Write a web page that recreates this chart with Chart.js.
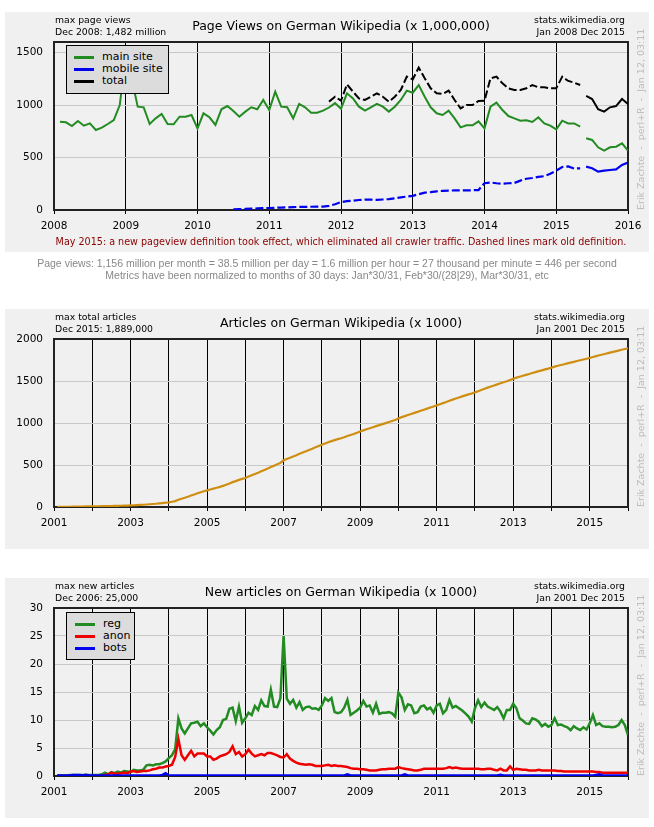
<!DOCTYPE html>
<html lang="en">
<head>
<meta charset="UTF-8">
<title>German Wikipedia</title>
<script src="https://cdn.jsdelivr.net/npm/chart.js@4"></script>
<style>
    body { margin: 0; background: #fff; width: 654px; height: 827px; position: relative; overflow: hidden; font-family: "DejaVu Sans", sans-serif; }
    .panel { position: absolute; left: 5px; width: 644px; height: 240px; background: #f0f0f0; }
    .panel canvas { position: absolute; left: 0; top: 0; }
    .txt { position: absolute; white-space: nowrap; color: #000; }
    .hdr { font-size: 9.3px; line-height: 12px; top: 2px; }
    .title { font-size: 12.5px; top: 6px; left: 49px; width: 574px; text-align: center; }
    .vert { position: absolute; left: 630px; top: 198px; transform-origin: 0 0; transform: rotate(-90deg); color: #bbb; font-size: 9.5px; line-height: 12px; white-space: pre; }
    .legend { position: absolute; background: #dcdcdc; border: 1px solid #000; z-index: 2; }
    .legend div { position: absolute; font-size: 11px; line-height: 12px; white-space: nowrap; }
    .legend span { position: absolute; height: 3px; width: 20px; }
    .note { position: absolute; font-size: 9.6px; color: #8b0000; top: 224px; left: 49px; width: 574px; text-align: center; white-space: nowrap; }
    .foot { position: absolute; left: 0; width: 654px; text-align: center; font-family: "Liberation Sans", Arial, sans-serif; font-size: 10.5px; color: #888; white-space: nowrap; }
</style>
</head>
<body>
<div class="panel" style="top:12px">
    <canvas id="pvChart" width="644" height="240"></canvas>
    <div class="txt hdr" style="left:50px">max page views<br>Dec 2008: 1,482 million</div>
    <div class="txt title">Page Views on German Wikipedia (x 1,000,000)</div>
    <div class="txt hdr" style="right:24px;text-align:right">stats.wikimedia.org<br>Jan 2008 Dec 2015</div>
    <div class="vert">Erik Zachte  -  perl+R  -  Jan 12, 03:11</div>
    <div class="legend" style="left:61px;top:33px;width:101px;height:47px">
        <span style="left:7px;top:10px;background:#228b22"></span><div style="left:35px;top:5px">main site</div>
        <span style="left:7px;top:22px;background:#0000ee"></span><div style="left:35px;top:17px">mobile site</div>
        <span style="left:7px;top:34px;background:#000"></span><div style="left:35px;top:29px">total</div>
    </div>
    <div class="note">May 2015: a new pageview definition took effect, which eliminated all crawler traffic. Dashed lines mark old definition.</div>
</div>
<div class="foot" style="top:257px">Page views: 1,156 million per month = 38.5 million per day = 1.6 million per hour = 27 thousand per minute = 446 per second</div>
<div class="foot" style="top:269px">Metrics have been normalized to months of 30 days: Jan*30/31, Feb*30/(28|29), Mar*30/31, etc</div>

<div class="panel" style="top:309px">
    <canvas id="artChart" width="644" height="240"></canvas>
    <div class="txt hdr" style="left:50px">max total articles<br>Dec 2015: 1,889,000</div>
    <div class="txt title">Articles on German Wikipedia (x 1000)</div>
    <div class="txt hdr" style="right:24px;text-align:right">stats.wikimedia.org<br>Jan 2001 Dec 2015</div>
    <div class="vert">Erik Zachte  -  perl+R  -  Jan 12, 03:11</div>
</div>

<div class="panel" style="top:578px">
    <canvas id="newChart" width="644" height="240"></canvas>
    <div class="txt hdr" style="left:50px">max new articles<br>Dec 2006: 25,000</div>
    <div class="txt title">New articles on German Wikipedia (x 1000)</div>
    <div class="txt hdr" style="right:24px;text-align:right">stats.wikimedia.org<br>Jan 2001 Dec 2015</div>
    <div class="vert">Erik Zachte  -  perl+R  -  Jan 12, 03:11</div>
    <div class="legend" style="left:61px;top:34px;width:67px;height:46px">
        <span style="left:8px;top:10px;background:#228b22"></span><div style="left:36px;top:5px">reg</div>
        <span style="left:8px;top:22px;background:#ee0000"></span><div style="left:36px;top:17px">anon</div>
        <span style="left:8px;top:34px;background:#0000ee"></span><div style="left:36px;top:29px">bots</div>
    </div>
</div>

<script>
    // page views (millions per month), old definition until Apr 2015, new from May 2015
    const mainSiteOld = [
        841, 835, 800, 848, 803, 825, 762, 784, 819, 857, 1000, 1482,
        1250, 984, 978, 819, 873, 914, 819, 816, 889, 889, 905, 778,
        921, 883, 810, 959, 990, 943, 889, 937, 978, 959, 1048, 952,
        1127, 984, 978, 873, 1010, 978, 927, 927, 946, 976, 1018, 965,
        1111, 1063, 984, 946, 978, 1010, 984, 937, 984, 1048, 1137, 1117,
        1190, 1079, 978, 921, 905, 946, 873, 787, 806, 806, 844, 778,
        984, 1022, 952, 895, 873, 851, 854, 838, 883, 825, 803, 768,
        851, 825, 825, 794
    ];
    const mainSiteNew = [683, 667, 597, 565, 597, 603, 635, 565];
    // mobile starts Jun 2010
    const mobileOld = [
        6, 8, 10, 13, 15, 17, 19,
        21, 23, 25, 28, 29, 30, 31, 32, 33, 40, 55, 75,
        84, 88, 95, 100, 98, 96, 100, 104, 112, 120, 128, 135,
        150, 165, 170, 178, 182, 185, 186, 186, 187, 188, 190, 255,
        262, 255, 250, 255, 258, 280, 298, 305, 315, 322, 345, 375,
        410, 415, 395, 397
    ];
    const mobileNew = [413, 397, 365, 375, 381, 387, 429, 451];
    // total starts Oct 2011
    const totalOld = [
        1032, 1079, 1041,
        1197, 1127, 1063, 1048, 1079, 1111, 1079, 1032, 1079, 1143, 1270, 1244,
        1356, 1254, 1159, 1111, 1105, 1137, 1048, 968, 1000, 1000, 1038, 1041,
        1254, 1270, 1206, 1159, 1143, 1143, 1159, 1190, 1168, 1168, 1159, 1159,
        1270, 1229, 1213, 1190
    ];
    const totalNew = [1086, 1057, 959, 937, 978, 990, 1057, 1010];

    // articles (x 1000), Jan 2001 - Dec 2015
    const totalArticles = [
        1, 1.5, 2, 2.5, 3, 3.5, 4, 5, 5.5, 6.5, 7, 8,
        8.5, 9, 9.5, 10.5, 11, 12, 13, 14, 15, 16, 17.5, 19,
        21, 23, 25, 27, 30, 33, 36, 39, 43, 47, 51, 56,
        62, 70, 87, 99, 110, 122, 136, 149, 163, 176, 188, 198,
        209, 219, 229, 240, 252, 265, 280, 296, 308, 323, 335, 346,
        362, 377, 393, 408, 425, 441, 457, 476, 492, 508, 525, 556,
        571, 586, 602, 617, 633, 648, 663, 679, 694, 710, 726, 742,
        756, 770, 784, 796, 808, 819, 831, 845, 857, 869, 883, 898,
        912, 925, 938, 950, 963, 975, 987, 999, 1011, 1023, 1035, 1055,
        1070, 1082, 1095, 1108, 1120, 1132, 1145, 1158, 1171, 1184, 1196, 1210,
        1224, 1237, 1250, 1264, 1278, 1291, 1304, 1317, 1329, 1341, 1352, 1365,
        1379, 1393, 1407, 1421, 1434, 1447, 1460, 1473, 1485, 1498, 1512, 1526,
        1540, 1551, 1562, 1573, 1584, 1595, 1606, 1617, 1627, 1638, 1648, 1659,
        1671, 1681, 1691, 1700, 1710, 1719, 1728, 1738, 1747, 1756, 1765, 1775,
        1786, 1796, 1806, 1815, 1825, 1834, 1843, 1852, 1862, 1872, 1881, 1889
    ];

    // new articles per month (x 1000), Jan 2001 - Dec 2015
    const regNew = [
        0.1, 0.1, 0.1, 0.1, 0.2, 0.2, 0.2, 0.2, 0.2, 0.2, 0.2, 0.2,
        0.2, 0.2, 0.3, 0.6, 0.3, 0.7, 0.5, 0.8, 0.6, 0.9, 0.8, 0.7,
        1.1, 1.0, 1.0, 1.1, 1.9, 2.0, 1.9, 2.1, 2.1, 2.3, 2.6, 3.2,
        3.7, 4.8, 10.3, 8.5, 7.6, 8.5, 9.4, 9.5, 9.7, 8.9, 9.4, 8.7,
        8.1, 7.4, 8.2, 8.7, 10.0, 10.2, 12.0, 12.2, 9.8, 12.4, 9.5, 10.3,
        11.3, 10.9, 12.5, 11.8, 13.5, 12.5, 12.4, 15.4, 12.4, 12.3, 13.9, 25.0,
        13.8, 12.9, 13.6, 12.2, 13.2, 11.8, 12.3, 12.4, 12.0, 12.1, 11.8, 12.6,
        13.9, 13.4, 13.9, 11.4, 11.2, 11.4, 12.2, 13.6, 10.9, 11.3, 11.7, 12.2,
        13.4, 12.4, 12.6, 11.3, 12.9, 11.1, 11.3, 11.3, 11.4, 11.2, 10.6, 14.9,
        14.0, 11.8, 12.8, 12.6, 11.2, 11.4, 12.4, 12.6, 11.9, 12.2, 11.3, 12.6,
        12.9, 11.2, 11.8, 13.6, 12.2, 12.5, 12.1, 11.7, 11.2, 10.6, 9.7, 12.1,
        13.5, 12.3, 13.1, 12.4, 12.1, 11.8, 12.3, 11.5, 10.3, 11.8, 11.8, 12.9,
        12.1, 10.3, 9.9, 9.4, 9.3, 10.3, 10.1, 9.7, 8.9, 9.3, 8.8, 9.1,
        10.3, 9.1, 9.2, 8.9, 8.7, 8.2, 8.9, 8.5, 8.2, 8.7, 8.3, 9.4,
        10.9, 9.1, 9.4, 8.9, 8.8, 8.8, 8.7, 8.8, 9.1, 10.0, 9.1, 7.3
    ];
    const anonNew = [
        0, 0, 0, 0, 0, 0, 0, 0, 0, 0, 0, 0,
        0, 0, 0, 0.2, 0.3, 0.6, 0.4, 0.4, 0.5, 0.6, 0.5, 0.8,
        0.9, 0.7, 0.8, 0.9, 0.9, 1.0, 1.2, 1.3, 1.5, 1.5, 1.7, 1.8,
        2.0, 3.4, 6.6, 3.7, 2.9, 3.7, 4.5, 3.5, 4.0, 4.0, 4.0, 3.5,
        3.5, 2.9, 3.1, 3.5, 3.7, 3.9, 4.3, 5.3, 3.9, 4.3, 3.5, 3.9,
        4.7, 4.0, 3.5, 3.7, 3.9, 3.7, 4.1, 4.1, 3.9, 3.7, 3.4, 3.3,
        3.9, 3.1, 2.7, 2.4, 2.2, 2.1, 2.0, 2.1, 2.0, 1.8, 1.8, 1.8,
        1.9, 2.0, 1.8, 1.9, 1.8, 1.8, 1.7, 1.6, 1.4, 1.3, 1.3, 1.2,
        1.2, 1.1, 1.0, 1.0, 1.0, 1.1, 1.2, 1.2, 1.3, 1.3, 1.3, 1.6,
        1.4, 1.3, 1.2, 1.1, 1.0, 1.0, 1.1, 1.3, 1.3, 1.3, 1.3, 1.3,
        1.3, 1.3, 1.4, 1.6, 1.4, 1.5, 1.4, 1.3, 1.3, 1.3, 1.3, 1.3,
        1.3, 1.2, 1.2, 1.3, 1.3, 1.1, 1.0, 1.3, 1.0, 1.0, 1.7, 1.1,
        1.3, 1.2, 1.1, 1.1, 1.0, 1.0, 1.0, 1.1, 1.0, 1.0, 1.0, 1.0,
        1.0, 0.9, 0.9, 0.8, 0.8, 0.8, 0.8, 0.8, 0.8, 0.8, 0.8, 0.8,
        0.8, 0.7, 0.7, 0.6, 0.6, 0.6, 0.6, 0.6, 0.6, 0.6, 0.6, 0.6
    ];
    const botsNew = [
        0.1, 0.1, 0.1, 0.1, 0.1, 0.2, 0.2, 0.2, 0.1, 0.2, 0.1, 0.1,
        0.1, 0.1, 0.1, 0.1, 0.1, 0.1, 0.1, 0.1, 0.1, 0.1, 0.1, 0.1,
        0.1, 0.1, 0.1, 0.1, 0.1, 0.1, 0.1, 0.1, 0.1, 0.2, 0.5, 0.1,
        0.1, 0.1, 0.1, 0.1, 0.1, 0.1, 0.1, 0.1, 0.1, 0.1, 0.1, 0.1,
        0.1, 0.1, 0.1, 0.1, 0.1, 0.1, 0.1, 0.1, 0.1, 0.1, 0.1, 0.1,
        0.1, 0.1, 0.1, 0.1, 0.1, 0.1, 0.1, 0.1, 0.1, 0.1, 0.1, 0.1,
        0.1, 0.1, 0.1, 0.1, 0.1, 0.1, 0.1, 0.1, 0.1, 0.1, 0.1, 0.1,
        0.1, 0.1, 0.1, 0.1, 0.1, 0.1, 0.1, 0.3, 0.1, 0.1, 0.1, 0.1,
        0.1, 0.1, 0.1, 0.1, 0.1, 0.1, 0.1, 0.1, 0.1, 0.1, 0.1, 0.1,
        0.1, 0.3, 0.1, 0.1, 0.1, 0.1, 0.1, 0.1, 0.1, 0.1, 0.1, 0.1,
        0.1, 0.1, 0.1, 0.1, 0.1, 0.1, 0.1, 0.1, 0.1, 0.1, 0.1, 0.1,
        0.1, 0.1, 0.1, 0.1, 0.1, 0.1, 0.1, 0.2, 0.1, 0.1, 0.1, 0.1,
        0.1, 0.1, 0.1, 0.1, 0.1, 0.1, 0.1, 0.1, 0.1, 0.1, 0.1, 0.1,
        0.1, 0.1, 0.1, 0.1, 0.1, 0.1, 0.1, 0.1, 0.1, 0.1, 0.1, 0.1,
        0.1, 0.2, 0.3, 0.1, 0.1, 0.1, 0.1, 0.1, 0.1, 0.1, 0.1, 0.1
    ];

    // axis ranges and tick values
    const pvYears = [2008, 2016];
    const artYears = [2001, 2016];
    const pvTicks = [0, 500, 1000, 1500];
    const artTicks = [0, 500, 1000, 1500, 2000];
    const newTicks = [0, 5, 10, 15, 20, 25, 30];

    const GREEN = '#228b22', BLUE = '#0000ee', RED = '#ee0000', ORANGE = '#cf8e10';
    const tickFont = { family: 'DejaVu Sans', size: 10.5 };

    // monthly value i of a series starting at (year, month) sits at the end of its month
    function monthly(values, year, month) {
        return values.map((v, i) => ({ x: year + (month + i + 1) / 12, y: v }));
    }

    function line(data, color, dashed, width) {
        return {
            data: data,
            borderColor: color,
            borderWidth: width || 2,
            borderDash: dashed ? [8, 3] : [],
            pointRadius: 0,
            tension: 0,
            fill: false
        };
    }

    const framePlugin = {
        id: 'frame',
        beforeDatasetsDraw(chart) {
            const a = chart.chartArea, ctx = chart.ctx;
            ctx.save();
            ctx.strokeStyle = '#222';
            ctx.lineWidth = 2;
            ctx.strokeRect(a.left, a.top, a.right - a.left, a.bottom - a.top);
            ctx.restore();
        }
    };

    function makeChart(id, datasets, years, yMax, yTicks, everyOther) {
        return new Chart(document.getElementById(id), {
            type: 'line',
            data: { datasets: datasets },
            options: {
                responsive: false,
                animation: false,
                layout: { padding: { top: 30, right: 21, left: 0, bottom: 0 } },
                plugins: { legend: { display: false }, tooltip: { enabled: false } },
                scales: {
                    x: {
                        type: 'linear',
                        min: years[0],
                        max: years[1],
                        afterFit: s => { s.height = 42; },
                        border: { display: false },
                        grid: { color: '#000', lineWidth: 1, tickLength: 4, tickColor: '#000' },
                        ticks: {
                            stepSize: 1,
                            autoSkip: false,
                            maxRotation: 0,
                            padding: 6,
                            color: '#000',
                            font: tickFont,
                            callback: v => (everyOther && v % 2 === 0) ? '' : String(v)
                        }
                    },
                    y: {
                        min: 0,
                        max: yMax,
                        afterFit: s => { s.width = 49; },
                        afterBuildTicks: s => { s.ticks = yTicks.map(v => ({ value: v })); },
                        border: { display: false },
                        grid: { color: '#c8c8c8', lineWidth: 1, drawTicks: false },
                        ticks: {
                            autoSkip: false,
                            padding: 11,
                            color: '#000',
                            font: tickFont,
                            callback: v => String(v)
                        }
                    }
                }
            },
            plugins: [framePlugin]
        });
    }

    makeChart('pvChart', [
        line(monthly(mainSiteOld, 2008, 0), GREEN, false),
        line(monthly(mainSiteNew, 2015, 4), GREEN, false),
        line(monthly(mobileOld, 2010, 5), BLUE, true, 2.2),
        line(monthly(mobileNew, 2015, 4), BLUE, false, 2.2),
        line(monthly(totalOld, 2011, 9), '#000', true),
        line(monthly(totalNew, 2015, 4), '#000', false)
    ], pvYears, 1600, pvTicks, false);

    makeChart('artChart', [
        line(monthly(totalArticles, 2001, 0), ORANGE, false, 2.2)
    ], artYears, 2000, artTicks, true);

    makeChart('newChart', [
        line(monthly(botsNew, 2001, 0), BLUE, false, 2.5),
        line(monthly(anonNew, 2001, 0), RED, false, 2.5),
        line(monthly(regNew, 2001, 0), GREEN, false, 2.5)
    ], artYears, 30, newTicks, true);
</script>
</body>
</html>
